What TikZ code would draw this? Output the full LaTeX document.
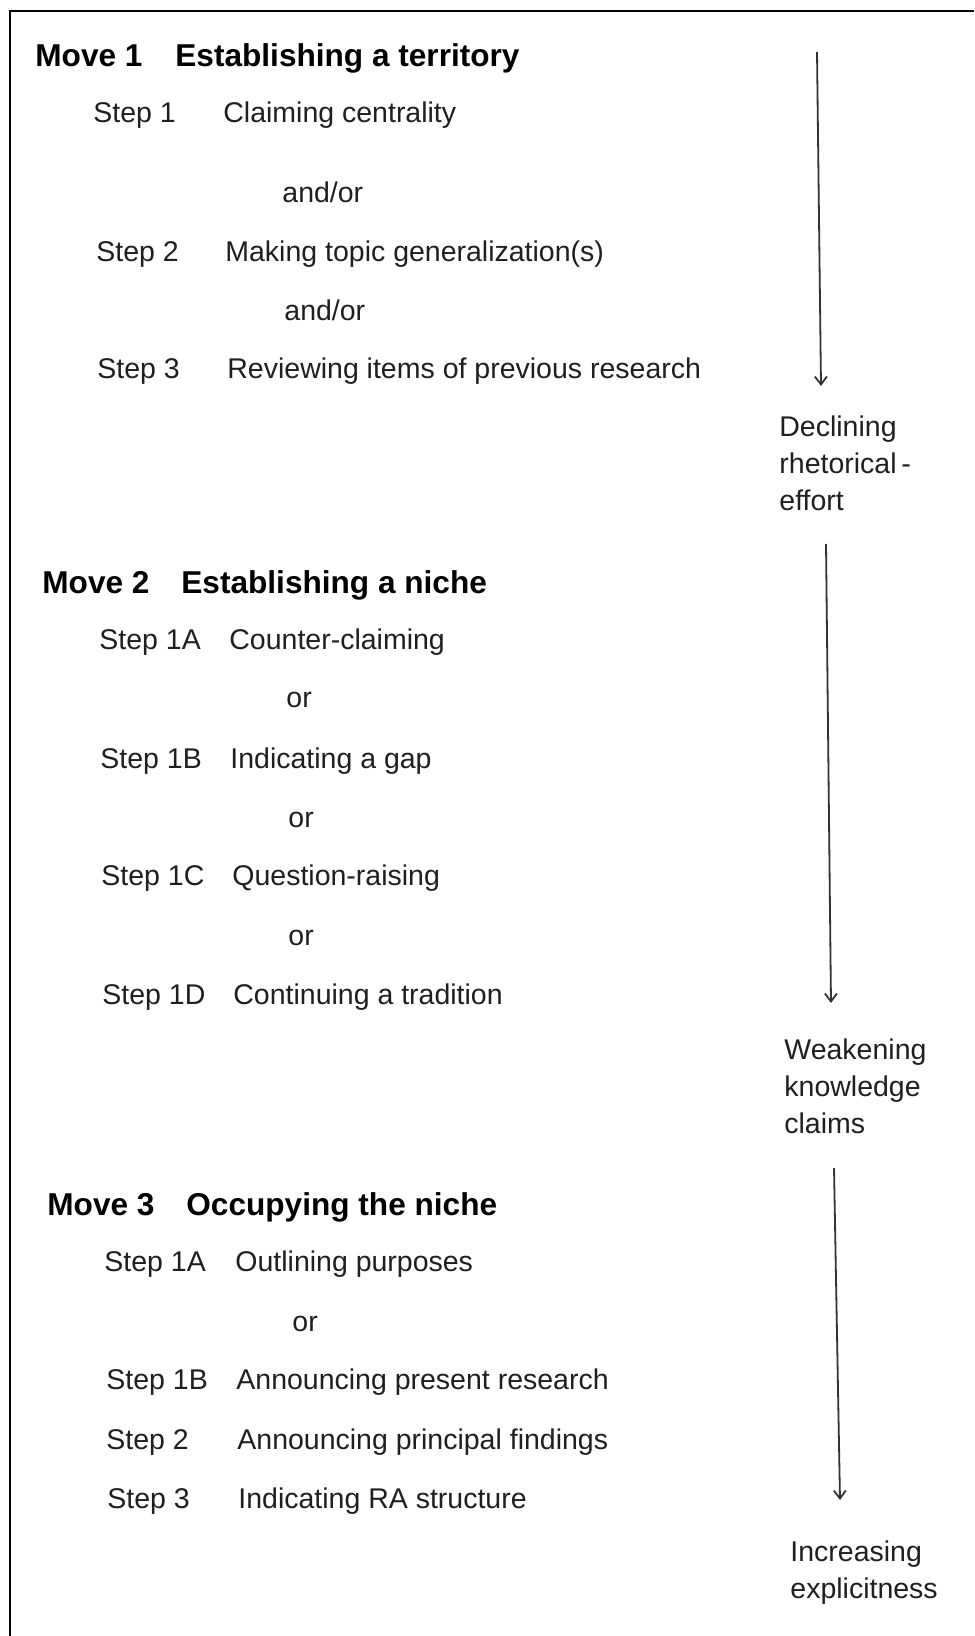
\documentclass[tikz,border=0pt]{standalone}
\usepackage{fontspec}
\setmainfont{Liberation Sans}
\usetikzlibrary{arrows.meta}
\begin{document}
\begin{tikzpicture}[x=0.5pt,y=-0.5pt,
  txt/.style={anchor=base west, inner sep=0pt, text=black!88,
    font=\fontsize{14.25}{17}\selectfont},
  head/.style={anchor=base west, inner sep=0pt,
    font=\fontsize{15.8}{19}\selectfont\bfseries},
  % multi-line labels are placed by the baseline of their last line
  side/.style={anchor=base west, inner sep=0pt, align=left, text=black!88,
    font=\fontsize{14.25}{18.4}\selectfont},
  flow/.style={draw=black!80, line width=0.9pt,
    -{Straight Barb[length=4pt,width=6pt]}},
  frame/.style={draw=black, line width=1.2pt}]
\useasboundingbox (0,0) rectangle (974,1636);
\fill[white] (0,0) rectangle (974,1636);

% open frame: left and top edges
\draw[frame] (10,1636) -- (10,11) -- (974,11);

% Move 1
\node[head] (m1)  at (35,67)  {Move 1};
\node[head] (m1t) at (175,67) {Establishing a territory};
\node[txt] (s11)  at (93,123)  {Step 1};
\node[txt] (d11)  at (223,123) {Claiming centrality};
\node[txt] (c11)  at (282,203) {and/or};
\node[txt] (s12)  at (96,262)  {Step 2};
\node[txt] (d12)  at (225,262) {Making topic generalization(s)};
\node[txt] (c12)  at (284,321) {and/or};
\node[txt] (s13)  at (97,379)  {Step 3};
\node[txt] (d13)  at (227,379) {Reviewing items of previous research};

% Move 2
\node[head] (m2)  at (42,593)  {Move 2};
\node[head] (m2t) at (181,593) {Establishing a niche};
\node[txt] (s21)  at (99,649)   {Step 1A};
\node[txt] (d21)  at (229,649)  {Counter-claiming};
\node[txt] (c21)  at (286,707)  {or};
\node[txt] (s22)  at (100,768)  {Step 1B};
\node[txt] (d22)  at (230,768)  {Indicating a gap};
\node[txt] (c22)  at (288,827)  {or};
\node[txt] (s23)  at (101,885)  {Step 1C};
\node[txt] (d23)  at (232,885)  {Question-raising};
\node[txt] (c23)  at (288,945)  {or};
\node[txt] (s24)  at (102,1004) {Step 1D};
\node[txt] (d24)  at (233,1004) {Continuing a tradition};

% Move 3
\node[head] (m3)  at (47,1215)  {Move 3};
\node[head] (m3t) at (186,1215) {Occupying the niche};
\node[txt] (s31)  at (104,1271) {Step 1A};
\node[txt] (d31)  at (235,1271) {Outlining purposes};
\node[txt] (c31)  at (292,1331) {or};
\node[txt] (s32)  at (106,1389) {Step 1B};
\node[txt] (d32)  at (236,1389) {Announcing present research};
\node[txt] (s33)  at (106,1449) {Step 2};
\node[txt] (d33)  at (237,1449) {Announcing principal findings};
\node[txt] (s34)  at (107,1508) {Step 3};
\node[txt] (d34)  at (238,1508) {Indicating RA structure};

% right-hand scale of tendencies
\node[side] (r1) at (779,510)  {Declining\\rhetorical\,-\\effort};
\node[side] (r2) at (784,1133) {Weakening\\knowledge\\claims};
\node[side] (r3) at (790,1598) {Increasing\\explicitness};

\coordinate (a1s) at (817,52);
\coordinate (a1e) at (821,386);
\coordinate (a2s) at (826,544);
\coordinate (a2e) at (831,1003);
\coordinate (a3s) at (834,1168);
\coordinate (a3e) at (840,1500);

\draw[flow] (a1s) -- (a1e);
\draw[flow] (a2s) -- (a2e);
\draw[flow] (a3s) -- (a3e);
\end{tikzpicture}
\end{document}
